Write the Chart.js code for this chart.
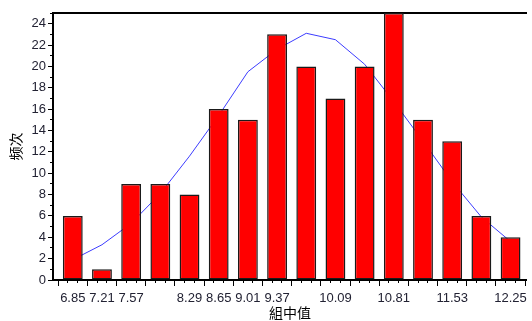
<!DOCTYPE html>
<html>
<head>
<meta charset="utf-8">
<script src="https://cdn.jsdelivr.net/npm/chart.js@4/dist/chart.umd.min.js"></script>
<style>
  html, body { margin: 0; padding: 0; background: #fff; }
  #wrap { width: 532px; height: 321px; }
</style>
</head>
<body>
<div id="wrap"><canvas id="c" width="532" height="321"></canvas></div>
<script>
// Class midpoints of the histogram
const midpoints = [6.85, 7.21, 7.57, 7.93, 8.29, 8.65, 9.01, 9.37, 9.73, 10.09, 10.45, 10.81, 11.17, 11.53, 11.89, 12.25];
// Frequency of each class
const frequency = [6, 1, 9, 9, 8, 16, 15, 23, 20, 17, 20, 25, 15, 13, 6, 4];
// Fitted normal curve, evaluated at the midpoints
const normalFit = [1.9, 3.3, 5.3, 8.1, 11.6, 15.4, 19.5, 21.6, 23.1, 22.5, 20.2, 16.7, 13.0, 9.2, 5.9, 3.6];
// Midpoints that get a printed label on the x axis
const xTickLabels = ['6.85', '7.21', '7.57', '8.29', '8.65', '9.01', '9.37', '10.09', '10.81', '11.53', '12.25'];

const tickFont = { family: '"Liberation Sans", Arial, sans-serif', size: 13 };
const titleFont = { family: '"Noto Sans CJK SC", "Noto Sans CJK TC", sans-serif', size: 14 };
const textColor = '#222233';

new Chart(document.getElementById('c'), {
  type: 'bar',
  data: {
    datasets: [
      {
        type: 'bar',
        data: midpoints.map((m, i) => ({ x: m, y: frequency[i] })),
        backgroundColor: '#ff0000',
        borderColor: '#1a1a1a',
        borderWidth: 1.5,
        borderSkipped: false,
        barPercentage: 0.68,
        categoryPercentage: 1,
        order: 0
      },
      {
        type: 'line',
        data: midpoints.map((m, i) => ({ x: m, y: normalFit[i] })),
        borderColor: '#3c3cff',
        borderWidth: 1,
        pointRadius: 0,
        tension: 0,
        fill: false,
        order: 1
      }
    ]
  },
  options: {
    responsive: false,
    animation: false,
    layout: { padding: { top: 13, right: 0, left: 0, bottom: 0 } },
    plugins: { legend: { display: false }, tooltip: { enabled: false } },
    scales: {
      x: {
        type: 'linear',
        position: 'bottom',
        weight: 1,
        min: 6.606,
        max: 12.452,
        offset: false,
        afterBuildTicks: s => { s.ticks = midpoints.map(v => ({ value: v })); },
        afterFit: s => { s.height = 41; },
        ticks: {
          autoSkip: false,
          maxRotation: 0,
          padding: 5,
          color: textColor,
          font: tickFont,
          callback: v => {
            const t = v.toFixed(2);
            return xTickLabels.includes(t) ? t : '';
          }
        },
        grid: { drawOnChartArea: false, tickLength: 6, color: '#000', lineWidth: 1 },
        border: { display: true, color: '#000', width: 2 },
        title: { display: true, text: '組中值', color: '#000', font: titleFont, padding: { top: 0, bottom: 0 } }
      },
      xMinor: {
        type: 'linear',
        position: 'bottom',
        weight: 0,
        min: 6.606,
        max: 12.452,
        offset: false,
        afterBuildTicks: s => {
          const t = [];
          for (let k = 0; k < midpoints.length * 3; k++) t.push({ value: 6.61 + 0.12 * k });
          s.ticks = t;
        },
        afterFit: s => { s.height = 0; },
        ticks: { display: false },
        grid: { drawOnChartArea: false, tickLength: 3, color: '#000', lineWidth: 1 },
        border: { display: false }
      },
      xTop: {
        type: 'linear',
        position: 'top',
        min: 6.606,
        max: 12.452,
        afterFit: s => { s.height = 0; },
        ticks: { display: false },
        grid: { display: false },
        border: { display: true, color: '#000', width: 2 }
      },
      y: {
        position: 'left',
        weight: 1,
        min: 0,
        max: 25,
        afterBuildTicks: s => {
          const t = [];
          for (let v = 0; v <= 24; v += 2) t.push({ value: v });
          s.ticks = t;
        },
        afterFit: s => { s.width = 53; },
        ticks: { color: textColor, font: tickFont, padding: 2 },
        grid: { drawOnChartArea: false, tickLength: 5, color: '#000', lineWidth: 1 },
        border: { display: true, color: '#000', width: 2 },
        title: { display: true, text: '频次', color: '#000', font: titleFont, padding: { top: 7, bottom: 0 } }
      },
      yMinor: {
        position: 'left',
        weight: 0,
        min: 0,
        max: 25,
        afterBuildTicks: s => {
          const t = [];
          for (let v = 0; v <= 25; v += 1) t.push({ value: v });
          s.ticks = t;
        },
        afterFit: s => { s.width = 0; },
        ticks: { display: false },
        grid: { drawOnChartArea: false, tickLength: 3, color: '#000', lineWidth: 1 },
        border: { display: false }
      }
    }
  }
});
</script>
</body>
</html>
